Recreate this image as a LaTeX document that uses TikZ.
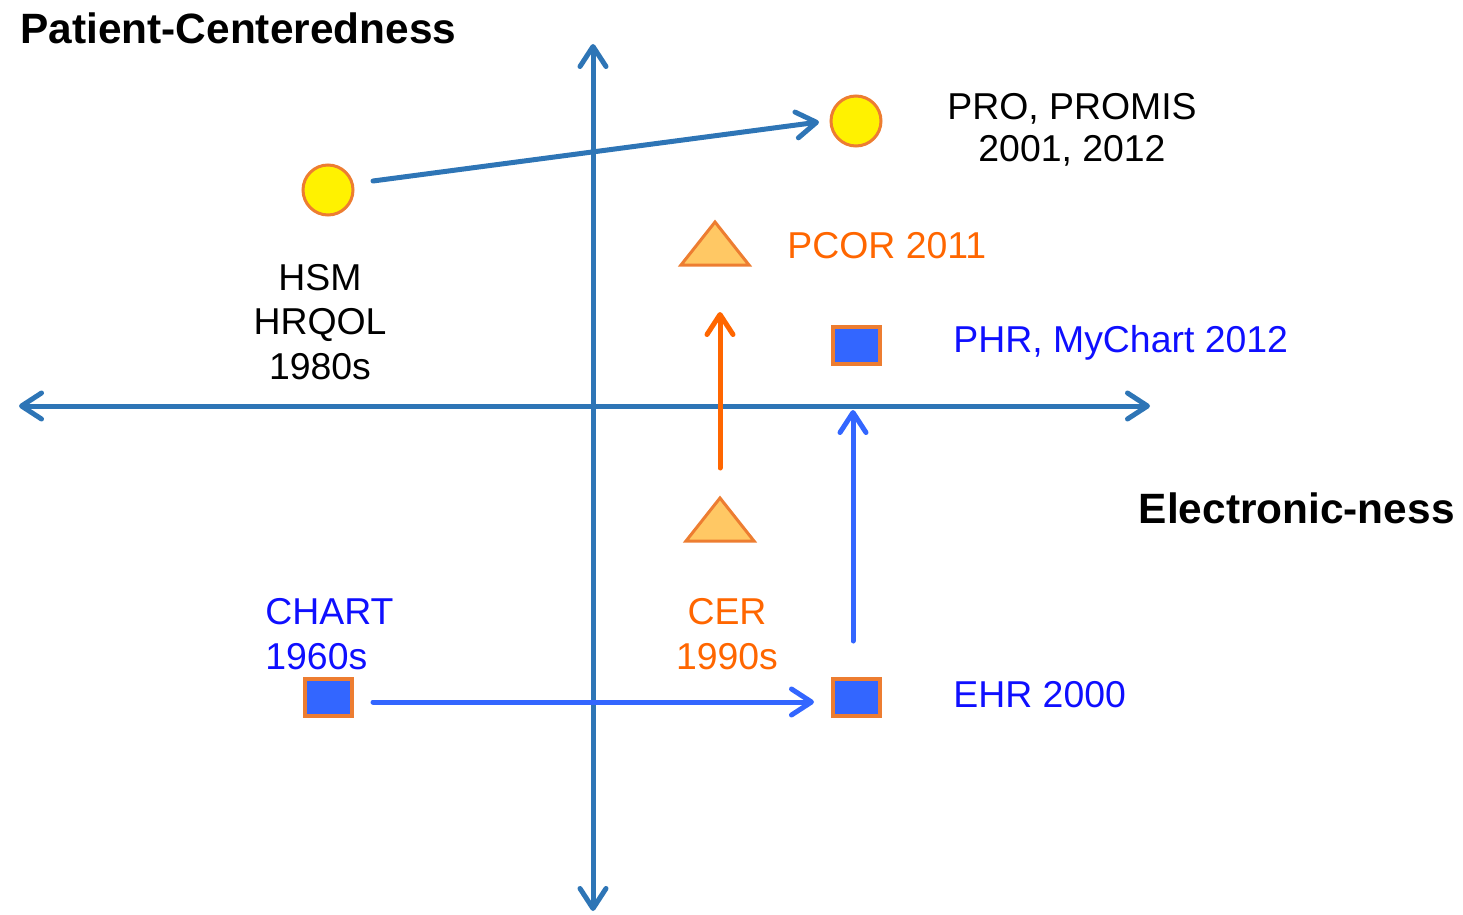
\documentclass[tikz,border=0pt]{standalone}
\usepackage{fontspec}
\setmainfont{Liberation Sans}
\usetikzlibrary{arrows.meta,shapes.geometric}
\definecolor{axisblue}{HTML}{2E75B6}
\definecolor{linkblue}{HTML}{3366FF}
\definecolor{sqblue}{HTML}{3366FF}
\definecolor{edgeorange}{HTML}{ED7D31}
\definecolor{arrorange}{HTML}{FF6600}
\definecolor{trifill}{HTML}{FFC864}
\definecolor{textblue}{HTML}{0F0FFF}
\begin{document}
\begin{tikzpicture}[x=0.5pt,y=-0.5pt,
  lbl/.style={font=\fontsize{18.7}{21}\selectfont, inner sep=0pt, align=center},
  lblw/.style={font=\fontsize{18.7}{22.2}\selectfont, inner sep=0pt, align=center},
  ttl/.style={font=\fontsize{21.2}{25}\selectfont\bfseries, inner sep=0pt},
  barb/.style={-{Straight Barb[length=10pt,width=13pt,round]}, line width=2.5pt, line cap=round},
  dbarb/.style={{Straight Barb[length=10pt,width=13pt,round]}-{Straight Barb[length=10pt,width=13pt,round]}, line width=2.5pt},
  dot/.style={circle, draw=edgeorange, fill=yellow, line width=1.5pt, minimum size=25pt, inner sep=0pt},
  sq/.style={rectangle, draw=edgeorange, fill=sqblue, line width=2pt, minimum width=47*0.5pt, minimum height=37*0.5pt, inner sep=0pt},
  trishape/.style={draw=edgeorange, fill=trifill, line width=1.5pt}
]
\useasboundingbox (0,0) rectangle (1463,915);
% axes
\coordinate (vt) at (593,44);
\coordinate (vb) at (593,911);
\coordinate (hl) at (19,406);
\coordinate (hr) at (1150,406);
\draw[dbarb, axisblue] (hl) -- (hr);
\draw[dbarb, axisblue] (vb) -- (vt);
% shapes
\node[dot] (hsm) at (328,190) {};
\node[dot] (pro) at (856,121) {};
\coordinate (pcor) at (715,250);
\draw[trishape] (715,222) -- (749,265) -- (681,265) -- cycle;
\coordinate (cer) at (720,526);
\draw[trishape] (720,498) -- (754,541) -- (686,541) -- cycle;
\node[sq] (phr) at (856,345) {};
\node[sq] (ehr) at (856,697) {};
\node[sq] (chart) at (328,697) {};
% connectors
\coordinate (a1s) at (373,181);
\coordinate (a1e) at (819,122);
\draw[barb, axisblue] (a1s) -- (a1e);
\coordinate (a2s) at (373,702);
\coordinate (a2e) at (814,702);
\draw[barb, linkblue] (a2s) -- (a2e);
\coordinate (a3s) at (853,641);
\coordinate (a3e) at (853,410);
\draw[barb, linkblue] (a3s) -- (a3e);
\coordinate (a4s) at (720,468);
\coordinate (a4e) at (720,312);
\draw[barb, arrorange] (a4s) -- (a4e);
% labels
\node[ttl, anchor=west] (tpc) at (20,28) {Patient-Centeredness};
\node[ttl, anchor=east] (tel) at (1455,508) {Electronic-ness};
\node[lbl] (lpro) at (1072,130) {PRO, PROMIS\\2001, 2012};
\node[lbl, text=arrorange, anchor=west] (lpcor) at (787,246) {PCOR 2011};
\node[lbl, text=textblue, anchor=west] (lphr) at (953,343) {PHR, MyChart 2012};
\node[lblw] (lhsm) at (320,322) {HSM\\HRQOL\\1980s};
\node[lblw, text=textblue, align=left, anchor=west] (lchart) at (265,634) {CHART\\1960s};
\node[lblw, text=arrorange] (lcer) at (727,634) {CER\\1990s};
\node[lbl, text=textblue, anchor=west] (lehr) at (953,695) {EHR 2000};
\end{tikzpicture}
\end{document}
